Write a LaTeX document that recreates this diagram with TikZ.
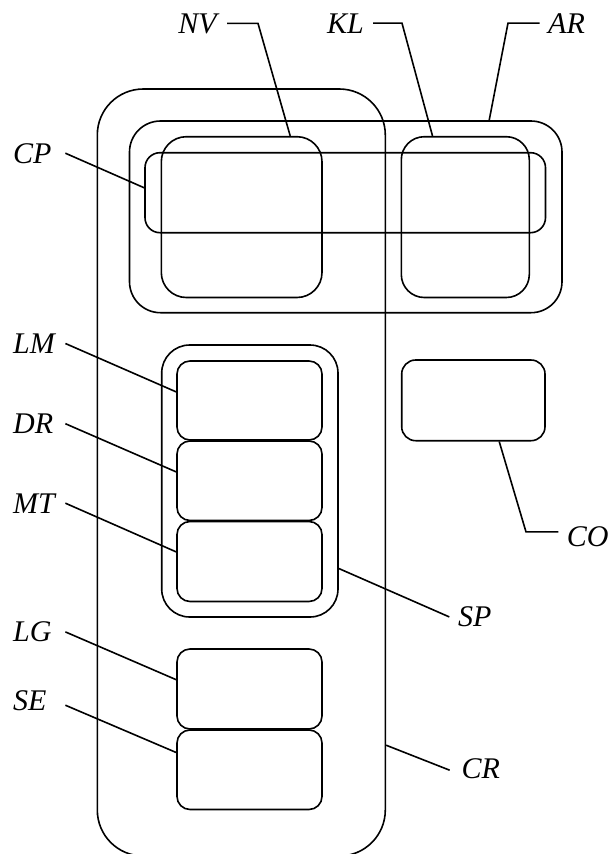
\documentclass[tikz,border=0pt]{standalone}
\usepackage{fontspec}
\setmainfont{Liberation Serif}
\begin{document}
\begin{tikzpicture}[x=1pt,y=-1pt,
  box/.style={draw, line width=1.6pt, inner sep=0pt, rectangle},
  lab/.style={inner sep=0pt, font=\fontsize{30}{36}\selectfont\itshape},
  leftlab/.style={lab, anchor=base west, text width=52pt, align=left},
  leader/.style={line width=1.6pt, line join=miter}]
\useasboundingbox (0,0) rectangle (610,854);

% boxes
\node[box, rounded corners=46pt, minimum width=288pt, minimum height=767pt] (CR) at (241.3,472.5) {};
\node[box, rounded corners=31pt, minimum width=432.5pt, minimum height=191.7pt] (AR) at (345.75,216.85) {};
\node[box, rounded corners=15pt, minimum width=400.5pt, minimum height=80pt] (CP) at (345.25,192.7) {};
\node[box, rounded corners=25pt, minimum width=160.7pt, minimum height=160.8pt] (NV) at (241.65,217.1) {};
\node[box, rounded corners=23pt, minimum width=128pt, minimum height=160.8pt] (KL) at (465.3,217.1) {};
\node[box, rounded corners=28pt, minimum width=176.3pt, minimum height=272pt] (SP) at (249.85,481) {};
\node[box, rounded corners=13pt, minimum width=145pt, minimum height=79pt] (LM) at (249.5,400.5) {};
\node[box, rounded corners=13pt, minimum width=145pt, minimum height=79.5pt] (DR) at (249.5,480.75) {};
\node[box, rounded corners=13pt, minimum width=145pt, minimum height=80pt] (MT) at (249.5,561.5) {};
\node[box, rounded corners=13pt, minimum width=145pt, minimum height=80pt] (LG) at (249.5,689) {};
\node[box, rounded corners=13pt, minimum width=145pt, minimum height=79.5pt] (SE) at (249.5,769.75) {};
\node[box, rounded corners=14pt, minimum width=143.3pt, minimum height=80.7pt] (CO) at (473.35,400.35) {};

% labels
\node[lab, anchor=base east] (lNV) at (217,33) {NV};
\node[lab, anchor=base east] (lKL) at (364,33) {KL};
\node[lab, anchor=base west] (lAR) at (548,33) {AR};
\node[leftlab] (lCP) at (13,163) {CP};
\node[leftlab] (lLM) at (13,353.3) {LM};
\node[leftlab] (lDR) at (13,433.5) {DR};
\node[leftlab] (lMT) at (13,513) {MT};
\node[leftlab] (lLG) at (13,641.7) {LG};
\node[leftlab] (lSE) at (13,710) {SE};
\node[lab, anchor=base west] (lSP) at (458,626.7) {SP};
\node[lab, anchor=base west] (lCR) at (461.5,778) {CR};
\node[lab, anchor=base west] (lCO) at (566.7,546.7) {CO};

% leaders
\draw[leader] ([xshift=10pt]lNV.east) -- ++(31,0) -- ([xshift=129.7pt]NV.north west);
\draw[leader] ([xshift=9pt]lKL.east) -- ++(29,0) -- ([xshift=32pt]KL.north west);
\draw[leader] ([xshift=-8.3pt]lAR.west) -- ++(-31.7,0) -- ([xshift=360.5pt]AR.north west);
\draw[leader] (lCP.east) -- ([yshift=-35.9pt]CP.north west);
\draw[leader] (lLM.east) -- ([yshift=-31.7pt]LM.north west);
\draw[leader] (lDR.east) -- ([yshift=-31.7pt]DR.north west);
\draw[leader] (lMT.east) -- ([yshift=-31.2pt]MT.north west);
\draw[leader] (lLG.east) -- ([yshift=-31.5pt]LG.north west);
\draw[leader] ([yshift=-5pt]lSE.east) -- ([yshift=-23.3pt]SE.north west);
\draw[leader] ([yshift=-224.3pt]SP.north east) -- ([xshift=-8.7pt]lSP.west);
\draw[leader] ([yshift=-657pt]CR.north east) -- ([xshift=-11.8pt,yshift=-2pt]lCR.west);
\draw[leader] ([xshift=98.3pt]CO.south west) -- ([xshift=-40.7pt,yshift=5pt]lCO.west) -- ([xshift=-8.4pt,yshift=5pt]lCO.west);
\end{tikzpicture}
\end{document}
